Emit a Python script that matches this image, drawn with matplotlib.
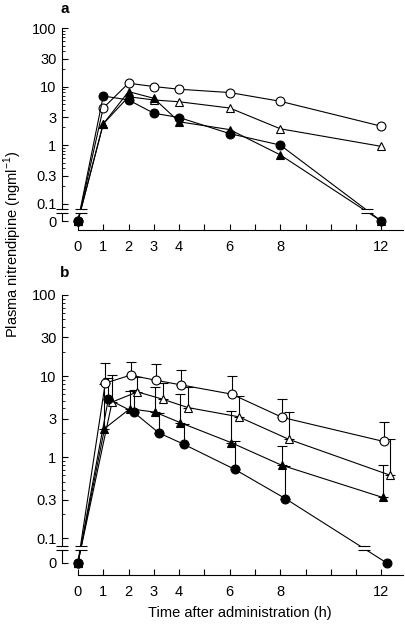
import numpy as np
import matplotlib
matplotlib.use("Agg")
import matplotlib.pyplot as plt
from matplotlib.path import Path
from matplotlib.ticker import FixedLocator, FixedFormatter, NullFormatter

plt.rcParams['font.family'] = ['Liberation Sans', 'DejaVu Sans']
plt.rcParams['mathtext.fontset'] = 'custom'
plt.rcParams['mathtext.rm'] = 'Liberation Sans'

# ---------------- data ----------------
time_h = [0, 1, 2, 3, 4, 6, 8, 12]

# panel a (means)
a_open_circle   = [0, 4.3, 11.4, 10.0, 9.0, 7.9, 5.6, 2.1]
a_open_tri      = [0, 2.3, 6.7, 5.9, 5.5, 4.3, 1.9, 0.95]
a_filled_circle = [0, 6.9, 5.9, 3.5, 2.96, 1.57, 1.0, 0]
a_filled_tri    = [0, 2.3, 8.2, 6.3, 2.5, 1.84, 0.68, 0]

# panel b (means and upper error limits)
b_open_circle       = [0, 8.2, 10.3, 8.9, 7.8, 6.0, 3.1, 1.57]
b_open_circle_up    = [np.nan, 14.4, 14.8, 14.0, 11.8, 10.0, 5.25, 2.75]
b_open_tri          = [0, 4.8, 6.4, 5.2, 4.1, 3.16, 1.66, 0.60]
b_open_tri_up       = [np.nan, 10.4, 9.7, 8.2, 7.3, 5.7, 3.6, 1.66]
b_filled_circle     = [0, 5.2, 3.6, 2.0, 1.44, 0.71, 0.31, 0]
b_filled_circle_up  = [np.nan, 9.6, 6.8, 3.5, 2.6, 1.57, 0.78, np.nan]
b_filled_tri        = [0, 2.26, 3.96, 3.6, 2.67, 1.52, 0.8, 0.32]
b_filled_tri_up     = [np.nan, 8.0, 6.5, 7.3, 6.0, 3.75, 1.36, 0.8]

y_tick_values = [0.1, 0.3, 1, 3, 10, 30, 100]
y_tick_labels = ['0.1', '0.3', '1', '3', '10', '30', '100']
x_tick_values = list(range(0, 13))
x_tick_labels = ['0', '1', '2', '3', '4', '', '6', '', '8', '', '', '', '12']

# ---------------- helpers ----------------
ZERO_POS = 10 ** -1.3     # where "0" is drawn on the broken log axis
BREAK_POS = 10 ** -1.12   # where the axis break marks sit
YMIN = ZERO_POS / 10 ** 0.15
YMAX = 100

def ymap(v):
    v = np.asarray(v, dtype=float)
    return np.where(v > 0, v, ZERO_POS)

eq_marker = Path([(-1, -0.32), (1, -0.32), (-1, 0.32), (1, 0.32)],
                 [Path.MOVETO, Path.LINETO, Path.MOVETO, Path.LINETO])
gap_marker = Path([(-1, -0.3), (1, -0.3), (1, 0.3), (-1, 0.3), (-1, -0.3)],
                  [Path.MOVETO, Path.LINETO, Path.LINETO, Path.LINETO, Path.CLOSEPOLY])

def break_mark(ax, x, y, transform=None, size=8.5):
    kw = dict(clip_on=False, zorder=6)
    if transform is not None:
        kw['transform'] = transform
    ax.plot([x], [y], marker=gap_marker, markersize=size, markerfacecolor='white',
            markeredgewidth=0, linestyle='none', **kw)
    ax.plot([x], [y], marker=eq_marker, markersize=size, markeredgecolor='black',
            markeredgewidth=0.8, linestyle='none', **kw)

def crossing_x(x0, v0, x1, v1):
    # x where the segment between (x0, v0) and (x1, v1) crosses BREAK_POS (log space)
    l0, l1 = np.log10(ymap([v0])[0]), np.log10(ymap([v1])[0])
    f = (np.log10(BREAK_POS) - l0) / (l1 - l0)
    return x0 + f * (x1 - x0)

styles = {
    'open_circle':   dict(marker='o', mfc='white'),
    'open_tri':      dict(marker='^', mfc='white'),
    'filled_circle': dict(marker='o', mfc='black'),
    'filled_tri':    dict(marker='^', mfc='black'),
}

def setup_axes(ax):
    ax.set_yscale('log')
    ax.set_ylim(YMIN, YMAX)
    ax.set_xlim(-0.63, 12.85)
    for s in ['top', 'right']:
        ax.spines[s].set_visible(False)
    ax.spines['left'].set_bounds(ZERO_POS, YMAX)
    ax.spines['bottom'].set_bounds(0, 12.85)
    ax.spines['left'].set_linewidth(0.8)
    ax.spines['bottom'].set_linewidth(0.8)
    ax.yaxis.set_major_locator(FixedLocator([ZERO_POS] + y_tick_values))
    ax.yaxis.set_major_formatter(FixedFormatter(['0'] + y_tick_labels))
    minors = [m * d for d in (0.1, 1, 10) for m in range(2, 10) if m != 3]
    ax.yaxis.set_minor_locator(FixedLocator(minors))
    ax.yaxis.set_minor_formatter(NullFormatter())
    ax.xaxis.set_major_locator(FixedLocator(x_tick_values))
    ax.xaxis.set_major_formatter(FixedFormatter(x_tick_labels))
    ax.xaxis.set_minor_locator(FixedLocator([]))
    ax.tick_params(axis='both', which='major', direction='in', length=4, width=0.8,
                   labelsize=10.5, pad=4)
    ax.tick_params(axis='y', which='minor', direction='in', length=2, width=0.6)
    ax.tick_params(axis='x', which='major', pad=7)
    # break on y axis
    break_mark(ax, 0, BREAK_POS, transform=ax.get_yaxis_transform(), size=9)

def draw_series(ax, t, vals, key, offset=0.0, upper=None):
    t = np.asarray(t, dtype=float)
    x = t + np.where(t > 0, offset, 0.0)
    y = ymap(vals)
    st = styles[key]
    if upper is not None:
        up = np.asarray(upper, dtype=float)
        ok = np.isfinite(up)
        ax.errorbar(x[ok], y[ok], yerr=[np.zeros(ok.sum()), up[ok] - y[ok]],
                    fmt='none', ecolor='black', elinewidth=0.8, capsize=3.3,
                    capthick=0.8, zorder=2)
    ax.plot(x, y, color='black', linewidth=0.8, marker=st['marker'],
            markerfacecolor=st['mfc'], markeredgecolor='black', markeredgewidth=0.8,
            markersize=6.4, zorder=4, clip_on=False)
    return x, y

fig = plt.figure(figsize=(4.06, 6.24), dpi=100)
L, R = 62 / 406, 403 / 406
ax_a = fig.add_axes([L, 1 - 230 / 624, R - L, (230 - 28) / 624])
ax_b = fig.add_axes([L, 1 - 575 / 624, R - L, (575 - 295) / 624])

for ax in (ax_a, ax_b):
    setup_axes(ax)

# panel a
draw_series(ax_a, time_h, a_open_circle, 'open_circle')
draw_series(ax_a, time_h, a_open_tri, 'open_tri')
draw_series(ax_a, time_h, a_filled_tri, 'filled_tri')
draw_series(ax_a, time_h, a_filled_circle, 'filled_circle')
break_mark(ax_a, crossing_x(time_h[0], a_filled_circle[0], time_h[1], a_filled_circle[1]) + 0.02, BREAK_POS)
break_mark(ax_a, crossing_x(time_h[-2], a_filled_circle[-2], time_h[-1], a_filled_circle[-1]), BREAK_POS)

# panel b
draw_series(ax_b, time_h, b_open_circle, 'open_circle', offset=0.08, upper=b_open_circle_up)
draw_series(ax_b, time_h, b_open_tri, 'open_tri', offset=0.35, upper=b_open_tri_up)
draw_series(ax_b, time_h, b_filled_tri, 'filled_tri', offset=0.05, upper=b_filled_tri_up)
draw_series(ax_b, time_h, b_filled_circle, 'filled_circle', offset=0.2, upper=b_filled_circle_up)
break_mark(ax_b, crossing_x(time_h[0], b_filled_circle[0], time_h[1] + 0.2, b_filled_circle[1]) + 0.02, BREAK_POS)
break_mark(ax_b, crossing_x(time_h[-2] + 0.2, b_filled_circle[-2], time_h[-1] + 0.2, b_filled_circle[-1]), BREAK_POS)

fig.text(65 / 406, 1 - 9 / 624, 'a', fontsize=11, fontweight='bold', ha='center', va='center')
fig.text(65 / 406, 1 - 273 / 624, 'b', fontsize=11, fontweight='bold', ha='center', va='center')
fig.text(13 / 406, 1 - 244 / 624, r'Plasma nitrendipine (ngml$^{-1}$)', rotation=90,
         fontsize=10.5, ha='center', va='center')
fig.text(240 / 406, 1 - 613 / 624, 'Time after administration (h)', fontsize=10.5,
         ha='center', va='center')

fig.savefig('out.png', dpi=100)
